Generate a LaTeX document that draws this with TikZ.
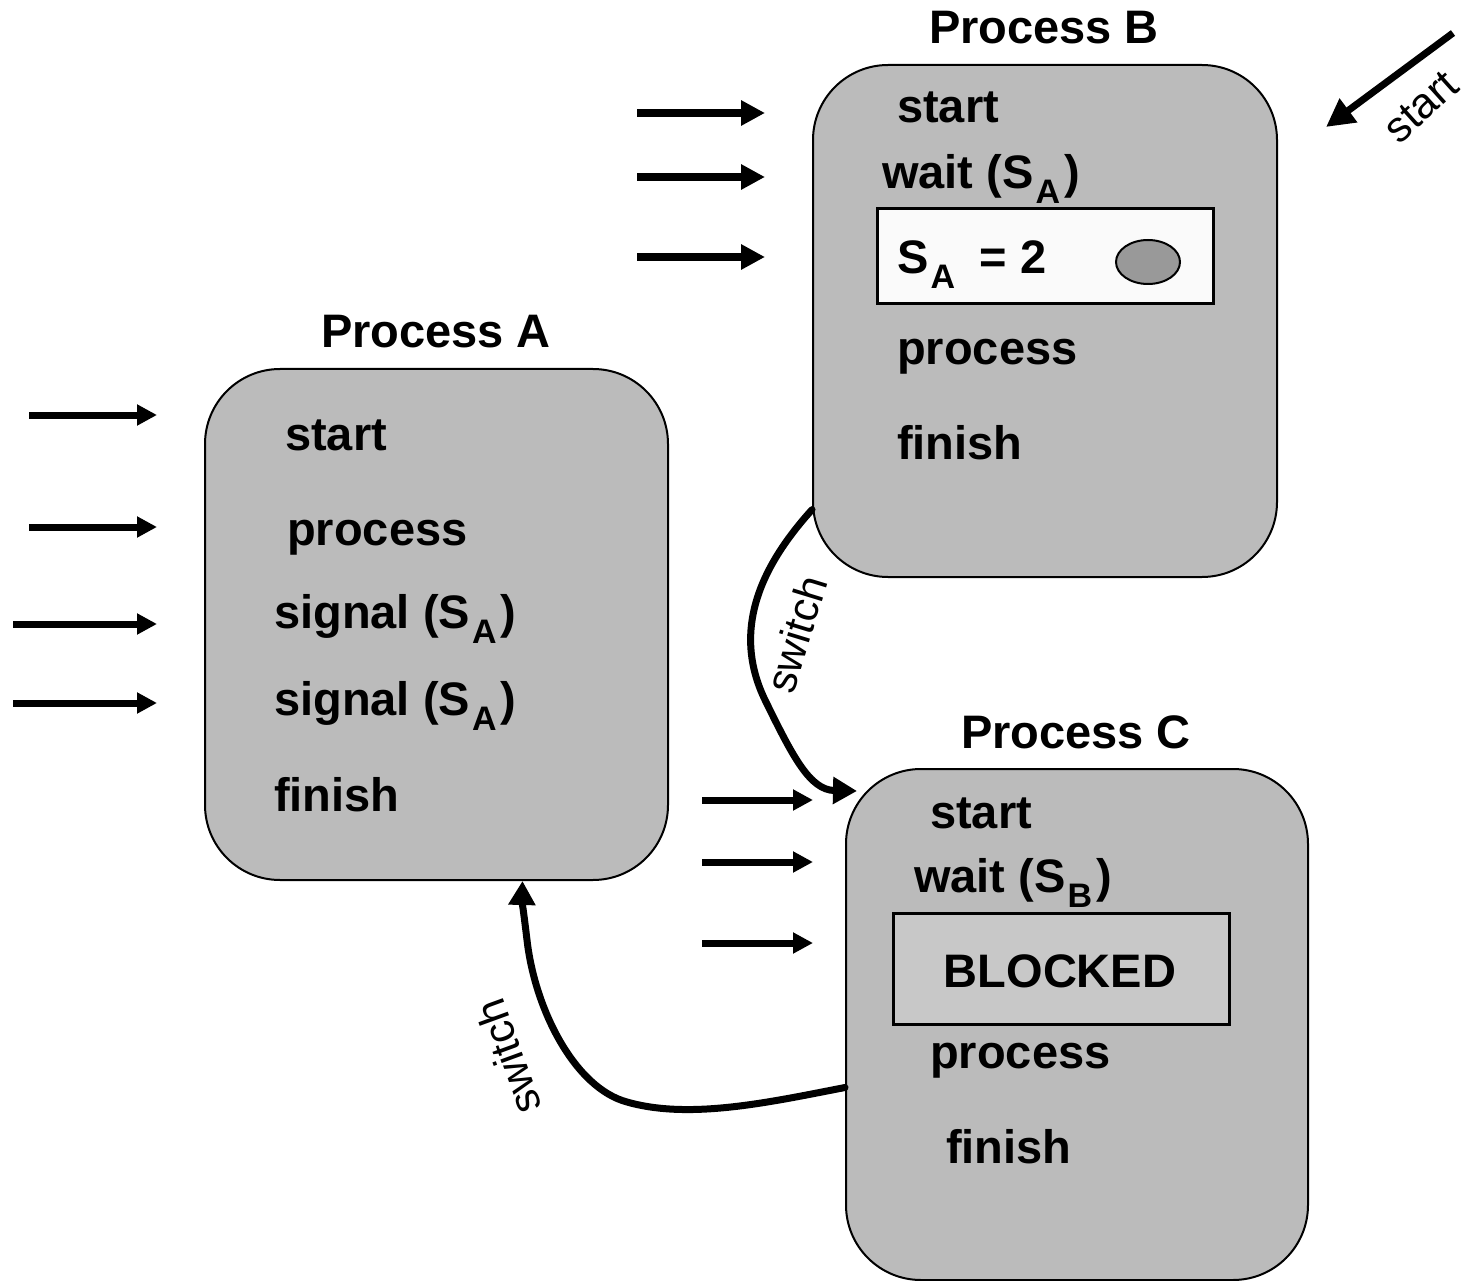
\documentclass[tikz,border=0pt]{standalone}
\usepackage{fontspec}
\setmainfont{Liberation Sans}
\usetikzlibrary{arrows.meta,calc,shapes.geometric}
\newcommand\lowsub[1]{\hspace{2pt}\raisebox{-15pt}{\fontsize{34}{34}\selectfont #1}\hspace{4pt}}
\definecolor{boxgray}{RGB}{187,187,187}
\definecolor{blockgray}{RGB}{200,200,200}
\definecolor{dotgray}{RGB}{153,153,153}
\definecolor{nearwhite}{RGB}{250,250,250}
\begin{document}
\begin{tikzpicture}[x=1pt,y=-1pt,
  pbox/.style={draw=black,line width=2pt,fill=boxgray,rounded corners=75pt,inner sep=0pt},
  item/.style={anchor=base west,inner sep=0pt,font=\fontsize{47}{56}\selectfont\bfseries},
  ttl/.style={anchor=base,inner sep=0pt,font=\fontsize{47}{56}\selectfont\bfseries},
  lbl/.style={inner sep=0pt,font=\fontsize{43}{52}\selectfont},
  inarrow/.style={line width=7pt,-{Triangle[length=20pt,width=20pt]}},
  inarrowb/.style={line width=8pt,-{Triangle[length=24pt,width=24pt]}},
  curve/.style={line width=7pt,line cap=round,-{Triangle[length=24pt,width=26pt]}}
]
\useasboundingbox[fill=white] (0,0) rectangle (1465,1281);

% Process B
\node[pbox,minimum width=464pt,minimum height=512pt] (B) at (1045,321) {};
\node[ttl] (tB) at (1044,44) {Process B};
\node[item] (b1) at (897,123) {start};
\node[item] (b2) at (882,189) {wait (S\lowsub{A})};
\node[draw=black,line width=3pt,fill=nearwhite,minimum width=336pt,minimum height=95pt,inner sep=0pt] (sbox) at (1045,256.5) {};
\node[item] (b3) at (897,274) {S\lowsub{A}\hspace{20pt}=\hspace{14pt}2};
\node[draw=black,line width=2pt,fill=dotgray,ellipse,minimum width=64pt,minimum height=44pt,inner sep=0pt] (dot) at (1148,262) {};
\node[item] (b4) at (897,364) {process};
\node[item] (b5) at (897,459) {finish};

% Process A
\node[pbox,minimum width=463pt,minimum height=511pt] (A) at (436.5,624.5) {};
\node[ttl] (tA) at (436,348) {Process A};
\node[item] (a1) at (285,450) {start};
\node[item] (a2) at (287,545) {process};
\node[item] (a3) at (274,628) {signal (S\lowsub{A})};
\node[item] (a4) at (274,715) {signal (S\lowsub{A})};
\node[item] (a5) at (274,811) {finish};

% Process C
\node[pbox,minimum width=462pt,minimum height=511pt] (C) at (1077,1024.5) {};
\node[ttl] (tC) at (1076,748) {Process C};
\node[item] (c1) at (930,828) {start};
\node[item] (c2) at (914,892) {wait (S\lowsub{B})};
\node[draw=black,line width=3pt,fill=blockgray,minimum width=336pt,minimum height=111pt,inner sep=0pt] (blk) at (1061,968.5) {};
\node[anchor=base,inner sep=0pt,font=\fontsize{47}{56}\selectfont\bfseries] (c3) at (1060,987) {BLOCKED};
\node[item] (c4) at (930,1068) {process};
\node[item] (c5) at (946,1163) {finish};

% input arrows to B
\coordinate (pb1) at (637,113); \coordinate (qb1) at (765,113);
\coordinate (pb2) at (637,177); \coordinate (qb2) at (765,177);
\coordinate (pb3) at (637,257); \coordinate (qb3) at (765,257);
\draw[inarrowb] (pb1) -- (qb1);
\draw[inarrowb] (pb2) -- (qb2);
\draw[inarrowb] (pb3) -- (qb3);

% input arrows to A
\coordinate (pa1) at (29,415); \coordinate (qa1) at (157,415);
\coordinate (pa2) at (29,527); \coordinate (qa2) at (157,527);
\coordinate (pa3) at (13,624); \coordinate (qa3) at (157,624);
\coordinate (pa4) at (13,703); \coordinate (qa4) at (157,703);
\draw[inarrow] (pa1) -- (qa1);
\draw[inarrow] (pa2) -- (qa2);
\draw[inarrow] (pa3) -- (qa3);
\draw[inarrow] (pa4) -- (qa4);

% input arrows to C
\coordinate (pc1) at (702,800); \coordinate (qc1) at (813,800);
\coordinate (pc2) at (702,862); \coordinate (qc2) at (813,862);
\coordinate (pc3) at (702,943); \coordinate (qc3) at (813,943);
\draw[inarrow] (pc1) -- (qc1);
\draw[inarrow] (pc2) -- (qc2);
\draw[inarrow] (pc3) -- (qc3);

% start arrow
\coordinate (s0) at (1453,33); \coordinate (s1) at (1326,127);
\draw[line width=7pt,-{Triangle[length=28pt,width=28pt]}] (s0) -- (s1);
\node[lbl,rotate=42] (st) at (1421,107) {start};

% switch B -> C
\draw[curve] (B.219) .. controls (762,565) and (730,630) .. (766,702)
  .. controls (793,757) and (810,790) .. ($(C.north west)+(12,23)$);
\node[lbl,rotate=73] (sw1) at (796,634) {switch};

% switch C -> A
\draw[curve] ($(C.west)+(0,63)$) .. controls (770,1102) and (690,1120) .. (627,1102)
  .. controls (575,1088) and (535,1010) .. (527,940)
  .. controls (524,915) and (522,900) .. ($(A.south)+(86,0)$);
\node[lbl,rotate=110] (sw2) at (508,1057) {switch};
\end{tikzpicture}
\end{document}
